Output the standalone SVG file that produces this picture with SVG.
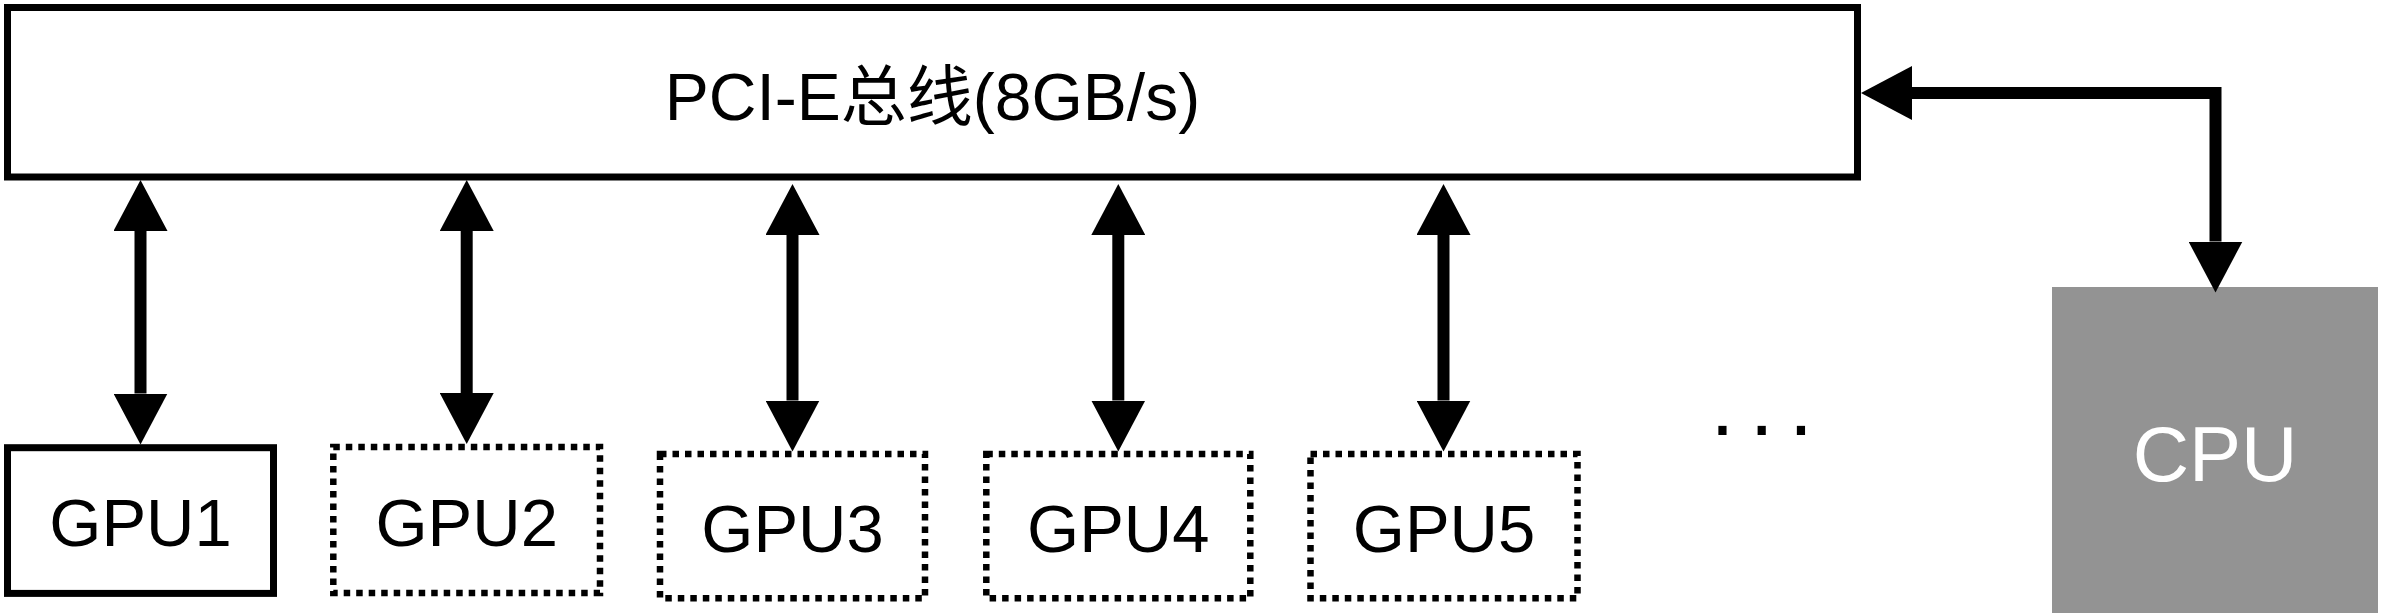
<svg xmlns="http://www.w3.org/2000/svg" width="2384" height="616" viewBox="0 0 2384 616">
  <style>
    .box { fill: #ffffff; stroke: #000000; stroke-width: 7; }
    .dot { fill: #ffffff; stroke: #000000; stroke-width: 6.5; stroke-dasharray: 6.5 6; }
    .lbl { font-family: "Liberation Sans", "Noto Sans CJK SC", sans-serif; fill: #000000; text-anchor: middle; }
    .conn { fill: none; stroke: #000000; stroke-width: 12; stroke-linejoin: miter; marker-start: url(#head); marker-end: url(#head); }
  </style>
  <defs>
    <marker id="head" viewBox="0 -27 51 54" markerWidth="51" markerHeight="54" refX="0" refY="0" markerUnits="userSpaceOnUse" orient="auto-start-reverse">
      <path d="M0,-27 L51,0 L0,27 Z" fill="#000000"/>
    </marker>
  </defs>
  <rect width="2384" height="616" fill="#ffffff"/>

  <g id="bus">
    <rect class="box" x="7.5" y="7.5" width="1850" height="169.5"/>
    <text class="lbl" x="932.5" y="120" font-size="66">PCI-E总线(8GB/s)</text>
  </g>

  <g id="gpu1">
    <rect class="box" x="7.5" y="447.7" width="266" height="145.7"/>
    <text class="lbl" x="140.5" y="546" font-size="67">GPU1</text>
  </g>
  <g id="gpu2">
    <rect class="dot" x="333.3" y="447" width="266.7" height="146"/>
    <text class="lbl" x="466.7" y="546" font-size="67">GPU2</text>
  </g>
  <g id="gpu3">
    <rect class="dot" x="660" y="454" width="265" height="144.3"/>
    <text class="lbl" x="792.5" y="551.7" font-size="67">GPU3</text>
  </g>
  <g id="gpu4">
    <rect class="dot" x="986.3" y="454" width="264" height="144.3"/>
    <text class="lbl" x="1118.3" y="551.7" font-size="67">GPU4</text>
  </g>
  <g id="gpu5">
    <rect class="dot" x="1310.5" y="454" width="267" height="144.3"/>
    <text class="lbl" x="1444" y="551.7" font-size="67">GPU5</text>
  </g>

  <g id="ellipsis">
    <text x="1710.5" y="435" font-size="86" letter-spacing="15.4" style="font-family:'Liberation Sans',sans-serif;fill:#000000">...</text>
  </g>

  <g id="cpu">
    <rect x="2052" y="287" width="326" height="326" fill="#939393"/>
    <text class="lbl" x="2215" y="480.7" font-size="78" style="fill:#ffffff">CPU</text>
  </g>

  <g id="connectors">
    <path class="conn" d="M140.5,231 L140.5,393.5"/>
    <path class="conn" d="M466.7,231 L466.7,393"/>
    <path class="conn" d="M792.5,235 L792.5,400.5"/>
    <path class="conn" d="M1118.3,235 L1118.3,400.5"/>
    <path class="conn" d="M1443.5,235 L1443.5,400.5"/>
    <path class="conn" d="M1912,93 L2215.5,93 L2215.5,241.5"/>
  </g>
</svg>
